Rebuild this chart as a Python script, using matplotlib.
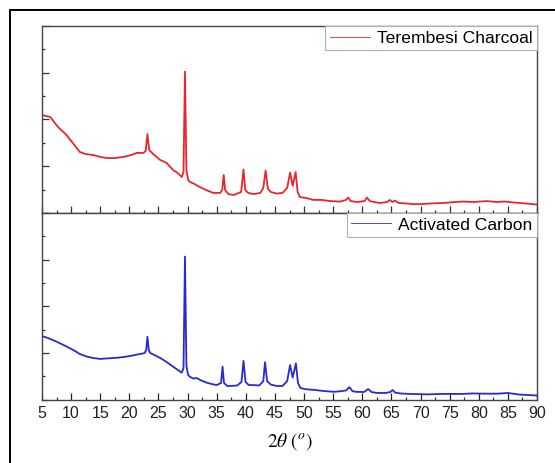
import matplotlib
matplotlib.use("Agg")
from matplotlib import pyplot as plt
from matplotlib.patches import Rectangle
from matplotlib.ticker import MultipleLocator

# 2-theta positions (deg) and intensities (a.u.)
charcoal_2theta = [5.0, 6.4, 7.75, 9.2, 10.3, 11.5, 12.5, 13.8, 15.0, 16.1, 17.5, 19.0,
                   20.3, 21.3, 22.4, 22.8, 23.1, 23.4, 24.1, 25.3, 26.4, 27.5, 28.3, 29.0,
                   29.3, 29.55, 29.8, 30.1, 30.4, 31.2, 32.1, 33.2, 34.4, 35.6, 35.95, 36.2,
                   36.45, 37.0, 37.9, 39.2, 39.6, 39.9, 40.4, 41.3, 42.5, 43.0, 43.4, 43.8,
                   44.3, 45.3, 46.3, 47.1, 47.6, 48.05, 48.55, 48.9, 49.3, 50.4, 51.6, 53.0,
                   54.5, 56.2, 57.2, 57.6, 58.0, 59.1, 60.4, 60.8, 61.3, 62.0, 63.0, 64.3,
                   64.7, 65.2, 65.6, 66.2, 67.5, 68.7, 70.0, 72.0, 74.0, 76.0, 77.3, 79.0,
                   81.4, 83.0, 84.5, 86.0, 88.0, 90.0]
charcoal_counts = [419, 411, 368, 334, 299, 261, 252, 248, 240, 235, 235, 240,
                   248, 257, 257, 265, 338, 270, 252, 227, 214, 184, 171, 154,
                   175, 605, 184, 141, 133, 124, 111, 98, 86, 86, 98, 163,
                   98, 81, 77, 90, 186, 98, 86, 81, 86, 107, 182, 103,
                   90, 83, 86, 107, 173, 116, 175, 90, 68, 64, 56, 56,
                   51, 49, 56, 66, 51, 47, 51, 66, 51, 47, 43, 47,
                   56, 47, 53, 43, 41, 38, 38, 41, 43, 47, 49, 47,
                   51, 47, 49, 45, 41, 36]

carbon_2theta = [5.0, 6.0, 7.5, 9.0, 10.4, 11.5, 12.7, 13.8, 15.0, 16.0, 17.2, 18.3,
                 19.5, 20.6, 21.8, 22.6, 22.9, 23.1, 23.35, 23.6, 24.3, 25.3, 26.4, 27.5,
                 28.3, 29.0, 29.3, 29.55, 29.8, 30.1, 30.4, 31.0, 31.6, 32.3, 33.3, 34.2,
                 35.0, 35.75, 36.0, 36.25, 36.8, 37.3, 38.5, 39.25, 39.6, 39.95, 40.5, 41.2,
                 42.3, 43.0, 43.3, 43.65, 44.3, 45.3, 46.3, 47.1, 47.6, 48.05, 48.6, 48.95,
                 49.4, 50.3, 51.8, 53.5, 55.2, 56.5, 57.2, 57.8, 58.3, 58.9, 60.3, 61.0,
                 61.6, 62.5, 64.0, 64.8, 65.2, 65.6, 66.5, 68.0, 71.1, 74.0, 77.2, 79.0,
                 81.0, 83.3, 85.0, 87.0, 89.4, 90.0]
carbon_counts = [272, 264, 248, 230, 212, 195, 184, 178, 174, 176, 178, 180,
                 184, 189, 195, 199, 212, 269, 212, 199, 191, 178, 161, 141,
                 127, 115, 135, 613, 144, 105, 97, 90, 92, 82, 72, 66,
                 62, 71, 141, 71, 58, 58, 60, 75, 166, 75, 62, 62,
                 60, 79, 160, 79, 64, 58, 58, 79, 148, 94, 155, 71,
                 49, 44, 41, 36, 33, 36, 39, 53, 36, 33, 32, 45,
                 32, 28, 28, 32, 41, 30, 26, 24, 22, 24, 24, 26,
                 25, 25, 28, 21, 18, 17]

series = [("Terembesi Charcoal", charcoal_2theta, charcoal_counts, "#e8262c"),
          ("Activated Carbon", carbon_2theta, carbon_counts, "#2a2ad0")]

plt.rcParams['font.family'] = ['Liberation Sans', 'DejaVu Sans']
plt.rcParams['mathtext.fontset'] = 'stix'

fig = plt.figure(figsize=(5.55, 4.63), dpi=100)

# outer frame of the original figure (cut off at the right and bottom)
fig.patches.append(Rectangle((9.5 / 555, -0.1), 1.2, 1.1 - 10.5 / 463,
                             transform=fig.transFigure, fill=False,
                             edgecolor="black", linewidth=1.4))

left, right = 42 / 555, 537 / 555
mid = 1 - 213 / 463
top = 1 - 26 / 463
bottom = 1 - 399.5 / 463

ax_top = fig.add_axes([left, mid, right - left, top - mid])
ax_bot = fig.add_axes([left, bottom, right - left, mid - bottom])

for ax, (name, xs, ys, color) in zip([ax_top, ax_bot], series):
    ax.plot(xs, ys, color=color, linewidth=1.3, label=name)
    ax.set_xlim(5, 90)
    ax.set_ylim(0, 800)
    ax.xaxis.set_major_locator(MultipleLocator(5))
    ax.xaxis.set_minor_locator(MultipleLocator(2.5))
    ax.yaxis.set_major_locator(MultipleLocator(200))
    ax.yaxis.set_minor_locator(MultipleLocator(100))
    ax.tick_params(which="both", direction="in", color="#333333", width=0.9,
                   top=False, right=False, labelleft=False)
    ax.tick_params(which="major", length=5, pad=5)
    ax.tick_params(which="minor", length=2.5)
    for sp in ax.spines.values():
        sp.set_color("#444444")
        sp.set_linewidth(1.0)
    leg = ax.legend(loc="upper right", borderaxespad=0, fontsize=12.6,
                    fancybox=False, handlelength=2.3, handletextpad=0.4,
                    borderpad=0.25, framealpha=1)
    leg.get_frame().set_edgecolor("#b0b0b0")
    leg.get_frame().set_linewidth(0.8)
    for h in leg.get_lines():
        h.set_linewidth(0.6)

ax_top.tick_params(labelbottom=False)
ax_bot.tick_params(axis="x", labelsize=11.5, colors="#222222")
ax_bot.set_xlabel(r"$2\theta\ (^{o})$", fontsize=14, labelpad=7)

fig.savefig("out.png", dpi=100)
